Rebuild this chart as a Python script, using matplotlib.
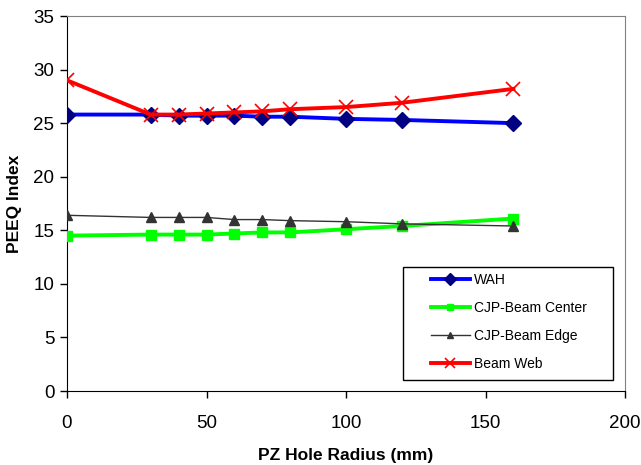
import matplotlib
matplotlib.use("Agg")
import matplotlib.pyplot as plt
from matplotlib.patches import Rectangle

plt.rcParams["font.family"] = ["Liberation Sans", "DejaVu Sans"]

# PZ hole radius (mm)
radius = [0, 30, 40, 50, 60, 70, 80, 100, 120, 160]

# PEEQ index for each location
wah = [25.8, 25.8, 25.7, 25.7, 25.7, 25.6, 25.6, 25.4, 25.3, 25.0]
cjp_center = [14.5, 14.6, 14.6, 14.6, 14.7, 14.8, 14.8, 15.1, 15.4, 16.1]
cjp_edge = [16.4, 16.2, 16.2, 16.2, 16.0, 16.0, 15.9, 15.8, 15.6, 15.4]
beam_web = [29.0, 25.8, 25.8, 25.9, 26.0, 26.1, 26.3, 26.5, 26.9, 28.2]

x_ticks = [0, 50, 100, 150, 200]
y_ticks = [0, 5, 10, 15, 20, 25, 30, 35]

W, H = 641, 465
fig = plt.figure(figsize=(W / 100, H / 100), dpi=100)
ax = fig.add_axes([67 / W, 1 - 391 / H, (625 - 67) / W, (391 - 16) / H])

ax.plot(radius, wah, color="#0000FF", lw=2.8, marker="D", ms=8.5,
        mfc="#000080", mec="#000080", label="WAH", zorder=3)
ax.plot(radius, cjp_center, color="#00FF00", lw=2.8, marker="s", ms=7,
        mfc="#00FF00", mec="#00FF00", label="CJP-Beam Center", zorder=3)
ax.plot(radius, cjp_edge, color="#333333", lw=1.0, marker="^", ms=7,
        mfc="#333333", mec="#333333", label="CJP-Beam Edge", zorder=3)
ax.plot(radius, beam_web, color="#FF0000", lw=2.8, marker="x", ms=10,
        mew=1.2, mec="#FF0000", label="Beam Web", zorder=4)

ax.set_xlim(0, 200)
ax.set_ylim(0, 35)
ax.set_xticks(x_ticks)
ax.set_yticks(y_ticks)
ax.tick_params(direction="out", length=5, width=1, labelsize=13.5)
ax.tick_params(axis="x", pad=12)
ax.tick_params(axis="y", pad=4)

for side in ("top", "right"):
    ax.spines[side].set_color("#808080")
for side in ("left", "bottom"):
    ax.spines[side].set_color("black")

fig.text((67 + 625) / 2 / W, 1 - 455 / H, "PZ Hole Radius (mm)",
         fontsize=12.5, fontweight="bold", ha="center", va="center")
ax.set_ylabel("PEEQ Index", fontsize=12.5, fontweight="bold", labelpad=8)

# legend box drawn separately so the entries keep wide side margins
fig.patches.append(Rectangle((403 / W, 1 - 380 / H), 210 / W, 113 / H,
                             transform=fig.transFigure, fill=True,
                             facecolor="white", edgecolor="black", lw=1.0,
                             zorder=5))
leg = fig.legend(*ax.get_legend_handles_labels(), loc="upper left",
                 bbox_to_anchor=(431 / W, 1 - 273 / H), fontsize=10,
                 frameon=False, borderpad=0, labelspacing=1.0,
                 handlelength=2.8, handletextpad=0.3, borderaxespad=0,
                 markerscale=0.7)
leg.set_zorder(6)

fig.savefig("out.png", dpi=100)
